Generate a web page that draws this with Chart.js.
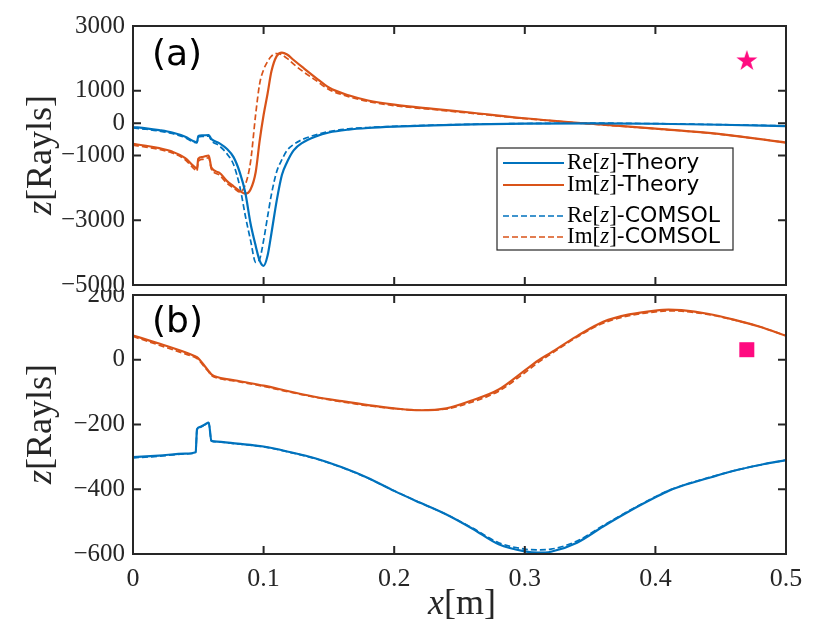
<!DOCTYPE html>
<html>
<head>
<meta charset="utf-8">
<script src="https://cdn.jsdelivr.net/npm/chart.js@4.4.0/dist/chart.umd.min.js"></script>
<style>
body { margin: 0; background: #fff; }
#wrap { position: relative; width: 830px; height: 643px; }
canvas { position: absolute; left: 0; }
</style>
</head>
<body>
<div id="wrap">
  <canvas id="chartTop" width="830" height="300" style="top:0px"></canvas>
  <canvas id="chartBot" width="830" height="353" style="top:290px"></canvas>
</div>
<script>
// ---- data (a) ----
var xTop = [0, 0.01, 0.02, 0.03, 0.04, 0.046, 0.049, 0.050, 0.053, 0.058, 0.060, 0.066, 0.072, 0.077,
    0.082, 0.086, 0.090, 0.094, 0.097, 0.100, 0.103, 0.106, 0.110, 0.114, 0.118, 0.123, 0.130, 0.140,
    0.150, 0.165, 0.18, 0.2, 0.23, 0.26, 0.3, 0.35, 0.4, 0.45, 0.5];
var reTheoryTop = [-120, -160, -215, -290, -420, -550, -590, -400, -380, -370, -490, -620, -800, -1050,
    -1550, -2150, -3100, -3800, -4250, -4410, -4100, -3400, -2400, -1600, -1200, -840, -600, -410,
    -290, -200, -150, -110, -70, -40, -15, -5, -20, -50, -90];
var imTheoryTop = [-640, -700, -770, -880, -1080, -1310, -1400, -1100, -1050, -1000, -1370, -1530, -1790, -1950,
    -2100, -2180, -2050, -1500, -540, 250, 900, 1600, 2070, 2180, 2120, 1950, 1720, 1400,
    1100, 860, 700, 570, 440, 320, 150, -20, -170, -340, -600];
var reComsolTop = [-150, -190, -245, -320, -450, -580, -610, -430, -410, -400, -540, -700, -950, -1280,
    -2000, -2860, -3620, -4300, -4200, -3620, -2900, -2200, -1500, -1130, -840, -660, -500, -360,
    -260, -175, -135, -98, -62, -36, -12, 0, -16, -46, -86];
var imComsolTop = [-680, -740, -810, -920, -1130, -1380, -1480, -1180, -1120, -1070, -1420, -1600, -1860, -2000,
    -2130, -1900, -1200, 300, 1220, 1650, 1900, 2070, 2150, 2110, 2000, 1820, 1600, 1320,
    1040, 820, 670, 540, 420, 300, 140, -25, -175, -345, -600];
var yTicksTop = [3000, 1000, 0, -1000, -3000, -5000];
var markerTop = [{ x: 0.47, y: 1950 }];

// ---- data (b) ----
var xBot = [0, 0.02, 0.04, 0.048, 0.049, 0.051, 0.055, 0.058, 0.060, 0.062, 0.08, 0.1, 0.12, 0.14, 0.16,
    0.18, 0.2, 0.22, 0.24, 0.26, 0.28, 0.3, 0.31, 0.32, 0.34, 0.36, 0.38, 0.4, 0.41, 0.42, 0.44, 0.46, 0.48, 0.5];
var reTheoryBot = [-301, -296, -290, -286, -215, -208, -200, -194, -250, -252, -259, -268, -285, -305, -332,
    -365, -405, -442, -478, -522, -570, -592, -596, -593, -565, -515, -468, -425, -405, -390, -366, -343, -325, -310];
var imTheoryBot = [75, 50, 23, 10, 8, 0, -20, -35, -45, -50, -65, -80, -98, -115, -128,
    -140, -150, -156, -150, -125, -92, -33, -3, 22, 73, 117, 140, 152, 155, 153, 142, 124, 102, 74];
var reComsolBot = [-303, -298, -291, -287, -216, -209, -201, -195, -251, -253, -260, -269, -286, -306, -333,
    -366, -405, -442, -478, -520, -565, -585, -587, -585, -560, -512, -466, -423, -404, -389, -365, -343, -325, -310];
var imComsolBot = [72, 45, 18, 6, 4, -4, -24, -38, -48, -53, -67, -82, -100, -116, -130,
    -142, -151, -156, -152, -130, -97, -40, -9, 18, 70, 113, 136, 148, 151, 150, 140, 123, 102, 74];
var markerBot = [{ x: 0.47, y: 31 }];

var xTickLabels = ['0', '0.1', '0.2', '0.3', '0.4', '0.5'];

var BLUE = '#0072BD';
var ORANGE = '#D95319';
var PINK = '#FF0A80';
var AXIS = '#262626';
var SERIF = 'Liberation Serif';
var SANS = 'DejaVu Sans';

function pts(xs, ys) {
    return xs.map(function (x, i) { return { x: x, y: ys[i] }; });
}

function makeStar(size, color) {
    var c = document.createElement('canvas');
    c.width = size; c.height = size;
    var g = c.getContext('2d');
    var cx = size / 2, cy = size / 2 + 1, R = size / 2, r = R * 0.382;
    g.beginPath();
    for (var i = 0; i < 10; i++) {
        var a = -Math.PI / 2 + i * Math.PI / 5;
        var rr = (i % 2) ? r : R;
        g.lineTo(cx + rr * Math.cos(a), cy + rr * Math.sin(a));
    }
    g.closePath();
    g.fillStyle = color;
    g.fill();
    return c;
}

function drawParts(ctx, parts, x, y, align) {
    var w = 0;
    parts.forEach(function (p) { ctx.font = p.f; w += ctx.measureText(p.t).width; });
    var cx = align === 'center' ? x - w / 2 : x;
    ctx.textBaseline = 'middle';
    ctx.textAlign = 'left';
    parts.forEach(function (p) {
        ctx.font = p.f;
        ctx.fillText(p.t, cx, y);
        cx += ctx.measureText(p.t).width;
    });
}

function lineSet(label, data, color, dashed) {
    return {
        label: label,
        data: data,
        borderColor: color,
        backgroundColor: color,
        borderWidth: dashed ? 1.7 : 2.2,
        borderDash: dashed ? [6, 3] : [],
        pointRadius: 0,
        cubicInterpolationMode: 'monotone',
        fill: false
    };
}

// box + inward ticks, panel letter, axis titles, legend
var decoPlugin = {
    id: 'deco',
    afterDraw: function (chart, args, opts) {
        var ctx = chart.ctx, a = chart.chartArea;
        var sx = chart.scales.x, sy = chart.scales.y;
        ctx.save();
        ctx.strokeStyle = AXIS;
        ctx.lineWidth = 2;
        ctx.strokeRect(a.left, a.top, a.right - a.left, a.bottom - a.top);
        sx.ticks.forEach(function (t) {
            var px = sx.getPixelForValue(t.value);
            ctx.beginPath();
            ctx.moveTo(px, a.bottom); ctx.lineTo(px, a.bottom - 8);
            ctx.moveTo(px, a.top); ctx.lineTo(px, a.top + 8);
            ctx.stroke();
        });
        sy.ticks.forEach(function (t) {
            var py = sy.getPixelForValue(t.value);
            ctx.beginPath();
            ctx.moveTo(a.left, py); ctx.lineTo(a.left + 8, py);
            ctx.moveTo(a.right, py); ctx.lineTo(a.right - 8, py);
            ctx.stroke();
        });

        ctx.fillStyle = '#000';
        ctx.font = '36px ' + SANS;
        ctx.textBaseline = 'middle';
        ctx.textAlign = 'left';
        ctx.fillText(opts.letter, a.left + 19, a.top + opts.letterDy);

        ctx.fillStyle = AXIS;
        ctx.save();
        ctx.translate(42, opts.yTitleY);
        ctx.rotate(-Math.PI / 2);
        drawParts(ctx, [
            { t: 'z', f: 'italic 36px ' + SERIF },
            { t: '[Rayls]', f: '36px ' + SERIF }
        ], 0, 0, 'center');
        ctx.restore();

        if (opts.xTitle) {
            drawParts(ctx, [
                { t: 'x', f: 'italic 36px ' + SERIF },
                { t: '[m]', f: '36px ' + SERIF }
            ], 462, opts.xTitleY, 'center');
        }

        if (opts.legend) {
            var L = opts.legend;
            ctx.fillStyle = '#fff';
            ctx.fillRect(L.x, L.y, L.w, L.h);
            ctx.strokeStyle = AXIS;
            ctx.lineWidth = 1.2;
            ctx.strokeRect(L.x, L.y, L.w, L.h);
            L.rows.forEach(function (ry, i) {
                var ds = chart.data.datasets[i];
                ctx.save();
                ctx.strokeStyle = ds.borderColor;
                ctx.lineWidth = ds.borderWidth;
                ctx.setLineDash(ds.borderDash);
                ctx.beginPath();
                ctx.moveTo(L.x + 6, ry); ctx.lineTo(L.x + 67, ry);
                ctx.stroke();
                ctx.restore();
                var m = ds.label.match(/^(\w+)\[z\](.*)$/);
                ctx.fillStyle = '#000';
                drawParts(ctx, [
                    { t: m[1], f: '23px ' + SERIF },
                    { t: '[', f: '23px ' + SERIF },
                    { t: 'z', f: 'italic 23px ' + SERIF },
                    { t: ']', f: '23px ' + SERIF },
                    { t: m[2], f: '22px ' + SANS }
                ], L.x + 70, ry, 'left');
            });
        }
        ctx.restore();
    }
};

function makeScales(yMin, yMax, yTicks, showX, xHeight) {
    return {
        x: {
            type: 'linear', min: 0, max: 0.5,
            grid: { display: false, drawTicks: false },
            border: { display: false },
            ticks: {
                display: showX, stepSize: 0.1, padding: 10, color: AXIS,
                font: { family: SERIF, size: 26 },
                callback: function (v) { return xTickLabels[Math.round(v * 10)]; }
            },
            afterFit: function (s) {
                s.height = xHeight;
                s.paddingLeft = 0; s.paddingRight = 0;
            }
        },
        y: {
            type: 'linear', min: yMin, max: yMax,
            grid: { display: false, drawTicks: false },
            border: { display: false },
            ticks: {
                padding: 8, color: AXIS,
                font: { family: SERIF, size: 25 },
                callback: function (v) { return v < 0 ? '\u2212' + Math.abs(v) : String(v); }
            },
            afterBuildTicks: function (s) {
                s.ticks = yTicks.map(function (v) { return { value: v }; });
            },
            afterFit: function (s) {
                s.width = 133;
                s.paddingTop = 0; s.paddingBottom = 0;
            }
        }
    };
}

var starImg = makeStar(22, PINK);

var chartTop = new Chart(document.getElementById('chartTop'), {
    type: 'line',
    data: {
        datasets: [
            lineSet('Re[z]-Theory', pts(xTop, reTheoryTop), BLUE, false),
            lineSet('Im[z]-Theory', pts(xTop, imTheoryTop), ORANGE, false),
            lineSet('Re[z]-COMSOL', pts(xTop, reComsolTop), BLUE, true),
            lineSet('Im[z]-COMSOL', pts(xTop, imComsolTop), ORANGE, true),
            {
                label: 'marker', type: 'scatter', data: markerTop,
                pointStyle: starImg, pointRadius: 11, pointHoverRadius: 11,
                backgroundColor: PINK, borderWidth: 0
            }
        ]
    },
    options: {
        responsive: false,
        animation: false,
        layout: { autoPadding: false, padding: { top: 26, right: 44, left: 0, bottom: 0 } },
        scales: makeScales(-5000, 3000, yTicksTop, false, 15),
        plugins: {
            legend: { display: false },
            tooltip: { enabled: false },
            deco: {
                letter: '(a)', letterDy: 30, yTitleY: 155,
                legend: { x: 497, y: 148, w: 236, h: 102, rows: [163, 185, 216, 237] }
            }
        }
    },
    plugins: [decoPlugin]
});

var chartBot = new Chart(document.getElementById('chartBot'), {
    type: 'line',
    data: {
        datasets: [
            lineSet('Re[z]-Theory', pts(xBot, reTheoryBot), BLUE, false),
            lineSet('Im[z]-Theory', pts(xBot, imTheoryBot), ORANGE, false),
            lineSet('Re[z]-COMSOL', pts(xBot, reComsolBot), BLUE, true),
            lineSet('Im[z]-COMSOL', pts(xBot, imComsolBot), ORANGE, true),
            {
                label: 'marker', type: 'scatter', data: markerBot,
                pointStyle: 'rect', pointRadius: 10.6, pointHoverRadius: 10.6,
                backgroundColor: PINK, borderWidth: 0
            }
        ]
    },
    options: {
        responsive: false,
        animation: false,
        layout: { autoPadding: false, padding: { top: 5, right: 44, left: 0, bottom: 0 } },
        scales: makeScales(-600, 200, [200, 0, -200, -400, -600], true, 89),
        plugins: {
            legend: { display: false },
            tooltip: { enabled: false },
            deco: { letter: '(b)', letterDy: 28, yTitleY: 134, xTitle: true, xTitleY: 315 }
        }
    },
    plugins: [decoPlugin]
});
</script>
</body>
</html>
